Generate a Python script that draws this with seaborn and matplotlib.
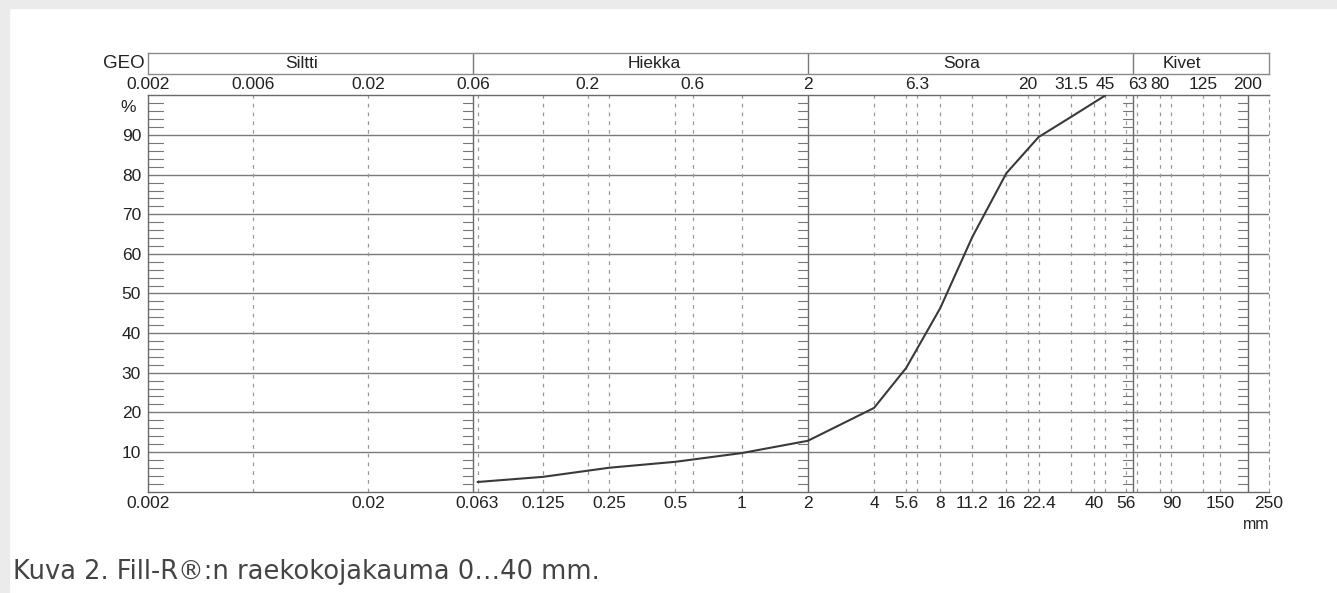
import numpy as np
import pandas as pd
import seaborn as sns
import matplotlib.pyplot as plt
from matplotlib.patches import Rectangle

# Rakeisuuskäyrä: seulakoko (mm) ja läpäisy (%)
sieve_mm = [0.063, 0.125, 0.25, 0.5, 1, 2, 4, 5.6, 8, 11.2, 16, 22.4, 31.5, 45]
passing = [2.4, 3.7, 6.0, 7.5, 9.7, 12.8, 21.1, 31.2, 46.3, 64.3, 80.4, 89.5, 94.6, 100]

# Yläreunan GEO-asteikko
top_ticks = [0.002, 0.006, 0.02, 0.06, 0.2, 0.6, 2, 6.3, 20, 31.5, 45, 63, 80, 125, 200]
top_labels = ['0.002', '0.006', '0.02', '0.06', '0.2', '0.6', '2', '6.3', '20',
              '31.5', '45', '63', '80', '125', '200']

# Alareunan seulat
bottom_ticks = [0.002, 0.02, 0.063, 0.125, 0.25, 0.5, 1, 2, 4, 5.6, 8, 11.2, 16,
                22.4, 40, 56, 90, 150, 250]
bottom_labels = ['0.002', '0.02', '0.063', '0.125', '0.25', '0.5', '1', '2', '4',
                 '5.6', '8', '11.2', '16', '22.4', '40', '56', '90', '150', '250']

# Maalajiluokat
class_names = ['Siltti', 'Hiekka', 'Sora', 'Kivet']
class_limits = [0.06, 2, 60]
class_label_x = [0.01, 0.4, 10, 100]
scale_lines = [0.002, 0.06, 2, 60, 200]

y_ticks = [10, 20, 30, 40, 50, 60, 70, 80, 90]

df = pd.DataFrame({'mm': sieve_mm, 'lapaisy': passing})

sns.set_style('white')
plt.rcParams['font.family'] = ['Liberation Sans', 'DejaVu Sans']

W, H = 1337, 593
fig = plt.figure(figsize=(W / 100, H / 100), dpi=100)

# harmaa reunus vasemmalla ja ylhäällä
fig.patches.append(Rectangle((0, 1 - 8 / H), 1, 8 / H, transform=fig.transFigure,
                             color='#ebebeb', zorder=0))
fig.patches.append(Rectangle((0, 0), 9 / W, 1, transform=fig.transFigure,
                             color='#ebebeb', zorder=0))

x0, x1 = 148, 1269
ax = fig.add_axes([x0 / W, 1 - 491.5 / H, (x1 - x0) / W, (491.5 - 95.5) / H])
ax.set_xscale('log')
ax.set_xlim(0.002, 250)
ax.set_ylim(0, 100)

txt_col = '#222222'

# vaakaviivat
for y in y_ticks:
    ax.axhline(y, color='#7a7a7a', lw=1.0, zorder=1)

# pystyviivat
dashed = sorted(set(top_ticks + bottom_ticks) - set(scale_lines) - {0.002, 250})
for v in dashed:
    ax.axvline(v, color='#9a9a9a', lw=0.9, ls=(0, (3, 4)), zorder=1)
for v in scale_lines[1:]:
    ax.axvline(v, color='#6a6a6a', lw=1.0, zorder=1)

# pienet 2 %:n merkit rajaviivoilla
minor = [y for y in range(2, 100, 2) if y % 10 != 0]
for v in scale_lines:
    if v == 0.002:
        a, b = v, v * 10 ** (15 / 219.7)
    else:
        a, b = v / 10 ** (10 / 219.7), v
    for y in minor:
        ax.plot([a, b], [y, y], color='#777777', lw=0.8, zorder=1)

sns.lineplot(data=df, x='mm', y='lapaisy', ax=ax, color='#3a3a3a', lw=1.5, zorder=3)

for s in ['left', 'bottom', 'top']:
    ax.spines[s].set_color('#6a6a6a')
    ax.spines[s].set_linewidth(1.0)
ax.spines['right'].set_color('#9a9a9a')
ax.spines['right'].set_linestyle((0, (3, 4)))

ax.set_xticks(bottom_ticks)
ax.set_xticklabels(bottom_labels)
ax.xaxis.set_minor_locator(plt.NullLocator())
ax.set_yticks(y_ticks)
ax.set_yticklabels([str(y) for y in y_ticks])
ax.tick_params(axis='both', length=0, labelsize=12.5, colors=txt_col)
ax.tick_params(axis='x', pad=3)
ax.tick_params(axis='y', pad=5)
ax.set_xlabel('')
ax.set_ylabel('')

# yläasteikon luvut
for v, lab in zip(top_ticks, top_labels):
    ax.text(v, 1.028, lab, transform=ax.get_xaxis_transform(), ha='center',
            va='center', fontsize=12.5, color=txt_col)
ax.text(-0.011, 0.97, '%', transform=ax.transAxes, ha='right', va='center',
        fontsize=12.5, color=txt_col)
ax.text(250, -0.083, 'mm', transform=ax.get_xaxis_transform(), ha='right',
        va='center', fontsize=11.5, color=txt_col)

# GEO-luokkapalkki
hdr = fig.add_axes([x0 / W, 1 - 74 / H, (x1 - x0) / W, 21 / H])
hdr.set_xscale('log')
hdr.set_xlim(0.002, 250)
hdr.set_ylim(0, 1)
hdr.set_xticks([])
hdr.set_yticks([])
hdr.xaxis.set_minor_locator(plt.NullLocator())
for s in hdr.spines.values():
    s.set_color('#8a8a8a')
    s.set_linewidth(1.0)
for v in class_limits:
    hdr.axvline(v, color='#7a7a7a', lw=1.0)
for xv, name in zip(class_label_x, class_names):
    hdr.text(xv, 0.5, name, ha='center', va='center', fontsize=12.5, color=txt_col)
hdr.text(-0.003, 0.5, 'GEO', transform=hdr.transAxes, ha='right', va='center',
         fontsize=13.5, color=txt_col)

fig.text(13 / W, 1 - 572 / H, 'Kuva 2. Fill-R®:n raekokojakauma 0…40 mm.',
         ha='left', va='center', fontsize=18.5, color='#444444',
         family=['DejaVu Sans'])

plt.savefig('out.png', dpi=100)
